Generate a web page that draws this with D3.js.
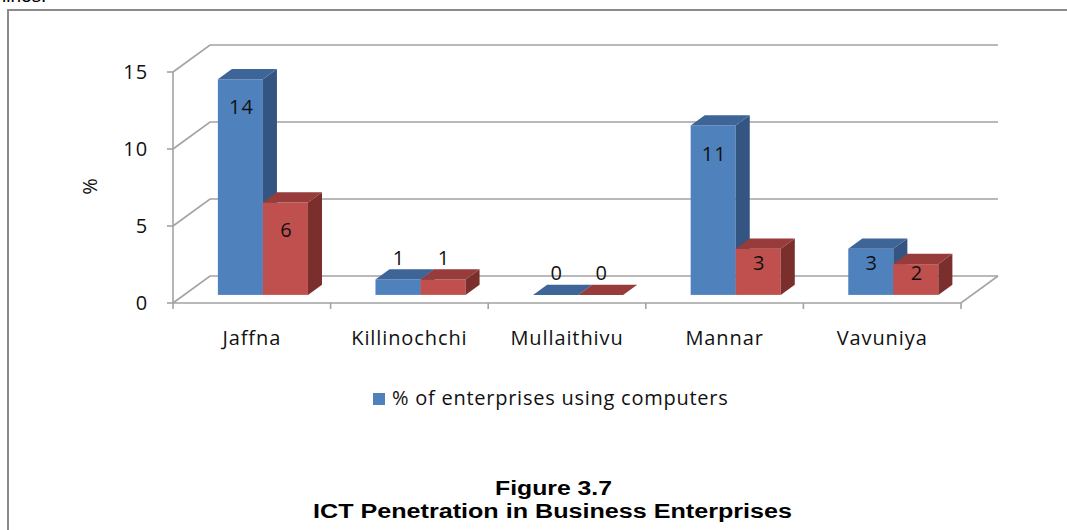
<!DOCTYPE html>
<html>
<head>
<meta charset="utf-8">
<script src="https://cdn.jsdelivr.net/npm/d3@7"></script>
<style>
  body { margin: 0; background: #fff; }
  svg { display: block; }
  .lbl { font-family: "Open Sans", sans-serif; font-size: 20px; fill: #111; letter-spacing: 0.9px; }
</style>
</head>
<body>
<script>
// chart data
var districts = ['Jaffna', 'Killinochchi', 'Mullaithivu', 'Mannar', 'Vavuniya'];
var computers = [14, 1, 0, 11, 3];
var secondSeries = [6, 1, 0, 3, 2];
var yTicks = [0, 5, 10, 15];
var legendLabel = '% of enterprises using computers';
var figureNo = 'Figure 3.7';
var figureTitle = 'ICT Penetration in Business Enterprises';

var width = 1067, height = 530;

var svg = d3.select('body').append('svg')
    .attr('width', width)
    .attr('height', height);

// outer frame (page box, runs off right/bottom)
svg.append('rect')
  .attr('x', 8).attr('y', 10)
  .attr('width', 1100).attr('height', 600)
  .attr('fill', 'none')
  .attr('stroke', '#8a8a8a')
  .attr('stroke-width', 2);

// cut off text line from the page above
svg.append('text')
  .attr('x', 2).attr('y', 2)
  .style('font', '19px "Liberation Sans", Arial, sans-serif')
  .text('lines.');

// scales for the front plane
var x = d3.scaleBand()
  .domain(districts)
  .range([173, 961]);

var y = d3.scaleLinear()
  .domain([0, 15])
  .range([303, 72]);

var series = d3.scaleBand()
  .domain(['a', 'b'])
  .range([0, x.bandwidth()])
  .paddingInner(0)
  .paddingOuter(0.75);

// depth of the 3d box and the bars
var wallDx = 37, wallDy = -27;
var barOff = 0.3, barDepth = 0.38;

var grid = svg.append('g')
  .attr('stroke', '#a3a3a3')
  .attr('stroke-width', 1.6)
  .attr('fill', 'none');

// side wall + back wall gridlines
grid.selectAll('path.grid')
  .data(yTicks)
  .enter().append('path')
    .attr('class', 'grid')
    .attr('d', function(d) {
      var x0 = x.range()[0], y0 = y(d);
      return 'M' + x0 + ',' + y0 +
             'L' + (x0 + wallDx) + ',' + (y0 + wallDy) +
             'L' + (x.range()[1] + wallDx) + ',' + (y0 + wallDy);
    });

// floor front and right edges
grid.append('path')
  .attr('d', 'M' + x.range()[0] + ',' + y(0) +
             'L' + x.range()[1] + ',' + y(0) +
             'L' + (x.range()[1] + wallDx) + ',' + (y(0) + wallDy));

// value axis line and ticks
grid.append('path')
  .attr('d', 'M' + x.range()[0] + ',' + y(15) + 'L' + x.range()[0] + ',' + y(0));

grid.selectAll('line.ytick')
  .data(yTicks)
  .enter().append('line')
    .attr('class', 'ytick')
    .attr('x1', x.range()[0] - 6).attr('x2', x.range()[0])
    .attr('y1', d => y(d)).attr('y2', d => y(d));

// category ticks
var bounds = districts.map(d => x(d)).concat([x.range()[1]]);
grid.selectAll('line.xtick')
  .data(bounds)
  .enter().append('line')
    .attr('class', 'xtick')
    .attr('x1', d => d).attr('x2', d => d)
    .attr('y1', y(0)).attr('y2', y(0) + 6);

// y tick labels
svg.selectAll('text.ylab')
  .data(yTicks)
  .enter().append('text')
    .attr('class', 'ylab lbl')
    .attr('x', 148)
    .attr('y', d => y(d) + 7)
    .attr('text-anchor', 'end')
    .text(d => d);

// y axis title
svg.append('text')
  .attr('class', 'lbl')
  .attr('transform', 'translate(97,186) rotate(-90)')
  .attr('text-anchor', 'middle')
  .text('%');

// category labels
svg.selectAll('text.xlab')
  .data(districts)
  .enter().append('text')
    .attr('class', 'xlab lbl')
    .attr('x', d => x(d) + x.bandwidth() / 2)
    .attr('y', 345)
    .attr('text-anchor', 'middle')
    .text(d => d);

// bars
var colors = {
  a: { front: '#4f81bd', top: '#3d6598', side: '#345581' },
  b: { front: '#c0504d', top: '#973c3a', side: '#7b2f2d' }
};

var bars = [];
districts.forEach(function(d, i) {
  bars.push({ cat: d, key: 'a', value: computers[i] });
  bars.push({ cat: d, key: 'b', value: secondSeries[i] });
});

var ox = wallDx * barOff, oy = wallDy * barOff;
var bdx = wallDx * barDepth, bdy = wallDy * barDepth;

var barG = svg.selectAll('g.bar')
  .data(bars)
  .enter().append('g')
    .attr('class', 'bar');

barG.each(function(d) {
  var g = d3.select(this);
  var x0 = x(d.cat) + series(d.key) + ox;
  var x1 = x0 + series.bandwidth();
  var yb = y(0) + oy;
  var yt = y(d.value) + oy;
  var c = colors[d.key];

  g.append('rect')
    .attr('x', x0).attr('y', yt)
    .attr('width', x1 - x0).attr('height', yb - yt)
    .attr('fill', c.front);

  g.append('path')
    .attr('d', 'M' + x1 + ',' + yt + 'L' + (x1 + bdx) + ',' + (yt + bdy) +
               'L' + (x1 + bdx) + ',' + (yb + bdy) + 'L' + x1 + ',' + yb + 'Z')
    .attr('fill', c.side);

  g.append('path')
    .attr('d', 'M' + x0 + ',' + yt + 'L' + (x0 + bdx) + ',' + (yt + bdy) +
               'L' + (x1 + bdx) + ',' + (yt + bdy) + 'L' + x1 + ',' + yt + 'Z')
    .attr('fill', c.top);
});

// value labels
barG.append('text')
  .attr('class', 'lbl')
  .attr('x', d => x(d.cat) + series(d.key) + ox + series.bandwidth() / 2 + 1)
  .attr('y', function(d) {
    var h = y(0) - y(d.value);
    var yt = y(d.value) + oy;
    if (h > 20) return yt + Math.min(28, h * 0.3) + 7;
    return yt - 22 + 7;
  })
  .attr('text-anchor', 'middle')
  .text(d => d.value);

// legend
svg.append('rect')
  .attr('x', 373).attr('y', 393)
  .attr('width', 12).attr('height', 12)
  .attr('fill', colors.a.front);

svg.append('text')
  .attr('class', 'lbl')
  .attr('x', 392).attr('y', 405)
  .style('letter-spacing', '0.75px')
  .text(legendLabel);

// figure caption
svg.append('text')
  .attr('x', 495).attr('y', 495)
  .attr('textLength', 117)
  .attr('lengthAdjust', 'spacingAndGlyphs')
  .style('font', 'bold 20px "Liberation Sans", Arial, sans-serif')
  .text(figureNo);

svg.append('text')
  .attr('x', 313).attr('y', 518)
  .attr('textLength', 479)
  .attr('lengthAdjust', 'spacingAndGlyphs')
  .style('font', 'bold 20px "Liberation Sans", Arial, sans-serif')
  .text(figureTitle);
</script>
</body>
</html>
